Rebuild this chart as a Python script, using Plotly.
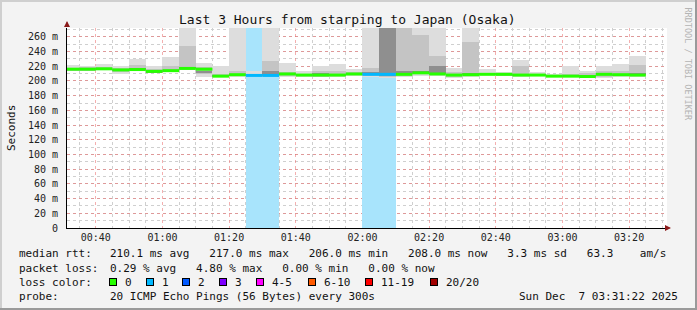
import plotly.graph_objects as go
import pandas as pd

# ---------------- data ----------------
START = "2025-12-07 00:30:00"
STEP = "5min"
N_BARS = 35
bar_start = pd.date_range(START, periods=N_BARS, freq=STEP)
bar_end = bar_start + pd.Timedelta(STEP)

median_ms = [216, 216, 216.5, 215, 215.5, 213, 214, 217, 216, 206.5,
             208.5, 207.5, 207.5, 209.5, 208, 208, 208, 209.5, 209, 209,
             209, 211, 209.5, 208, 208.5, 209, 209, 208, 208, 206.5,
             206.5, 206, 209, 208.5, 208]
max_ms = [221.5, 221, 222.5, 220.5, 230, 221, 232, 300, 225, 220.5,
          300, 213, 300, 224.5, 213.5, 221, 222.5, 216, 300, 300,
          300, 300, 300, 217, 300, 216, 212.5, 228, 212.5, 210,
          220, 213.5, 221, 222.5, 234]
min_ms = [213, 213, 214.5, 209.5, 213, 212, 212, 215, 206, 205.5,
          206, 206, 205, 205.5, 205.5, 205, 205.5, 207, 205, 204.5,
          205, 207, 207, 203.5, 206, 207.5, 207.5, 205, 206.5, 206,
          206, 205, 204.5, 206, 206]
mid_hi = [218, 218.5, 219, 217, 222, 216, 220, 247.5, 219, 210,
          213, 210, 227, 212, 210, 214, 213, 212, 217, 300,
          300, 262, 234, 212, 253, 211, 210.5, 220, 210, 208,
          210, 211, 213, 214, 222]
mid_lo = [214, 214, 215, 212, 214, 211, 213, 216, 210, 205.5,
          207, 206.5, 206, 207, 206.5, 206, 206.5, 208, 207, 206,
          207, 209, 208, 205, 207, 208, 208, 206.5, 207, 206,
          205.5, 205, 206, 207, 207]
core_hi = [217, 217, 217.5, 216, 217, 214, 215, 219, 214, 208,
           210, 208.5, 213, 211, 209, 211, 210, 210.5, 212, 300,
           213, 214, 221, 209.5, 211, 210, 209.5, 210, 209, 207.5,
           207.5, 208, 211, 210, 211]
core_lo = [215, 215, 215.5, 214, 215, 212, 212.5, 216.5, 212, 206,
           207.5, 207, 206.5, 208, 207, 207, 207, 208.5, 208, 207,
           208, 210, 209, 206.5, 207.5, 208.5, 208.5, 207, 207.5, 206,
           206, 205, 207.5, 207.5, 207.5]
lost_pings = [0] * 11 + [1, 1] + [0] * 5 + [1, 1] + [0] * 15

Y_TOP = 272
y_ticks = list(range(0, 261, 20))
y_tick_text = ["0"] + [f"{v} m" for v in y_ticks[1:]]
x_range = ["2025-12-07 00:31:22", "2025-12-07 03:31:22"]

loss_levels = ["0", "1", "2", "3", "4-5", "6-10", "11-19", "20/20"]
loss_colors = ["#26ff00", "#00b8ff", "#0059ff", "#7e00ff", "#ff00ff",
               "#ff5a00", "#ff0000", "#a10000"]
LOSS_BG = "#a8e4fc"

stats_rtt = "210.1 ms avg   217.0 ms max   206.0 ms min   208.0 ms now   3.3 ms sd   63.3    am/s"
stats_loss = "0.29 % avg   4.80 % max   0.00 % min   0.00 % now"
probe_text = "20 ICMP Echo Pings (56 Bytes) every 300s"
date_text = "Sun Dec  7 03:31:22 2025"
title_text = "Last 3 Hours from starping to Japan (Osaka)"

# ---------------- figure ----------------
W, H = 697, 310
L, R, T, B = 67, 30, 28, 82
PW, PH = W - L - R, H - T - B
MONO = "DejaVu Sans Mono"


def px(x):
    return (x - L) / PW


def py(y):
    return (H - B - y) / PH


fig = go.Figure()
width_ms = pd.Timedelta(STEP).total_seconds() * 1000

# loss background
fig.add_trace(go.Bar(
    x=bar_start, y=[Y_TOP if l > 0 else None for l in lost_pings],
    base=0, width=width_ms, offset=0, marker=dict(color=LOSS_BG, line_width=0),
    hoverinfo="skip"))

# smoke layers
for lo, hi, col in [(min_ms, max_ms, "#dddddd"),
                    (mid_lo, mid_hi, "#c4c4c4"),
                    (core_lo, core_hi, "#8f8f8f")]:
    fig.add_trace(go.Bar(
        x=bar_start, y=[h - l for l, h in zip(lo, hi)], base=lo,
        width=width_ms, offset=0, marker=dict(color=col, line_width=0),
        hoverinfo="skip"))

# median line, coloured by loss
for lvl, col in [(0, loss_colors[0]), (1, loss_colors[1])]:
    xs, ys = [], []
    for s, e, m, l in zip(bar_start, bar_end, median_ms, lost_pings):
        if l == lvl:
            xs += [s, e, None]
            ys += [m, m, None]
    fig.add_trace(go.Scatter(x=xs, y=ys, mode="lines",
                             line=dict(color=col, width=3),
                             hoverinfo="skip", connectgaps=False))

fig.update_layout(
    width=W, height=H, margin=dict(l=L, r=R, t=T, b=B),
    paper_bgcolor="#f3f3f3", plot_bgcolor="white",
    showlegend=False, barmode="overlay", bargap=0,
    font=dict(family=MONO, size=10, color="#222"),
)
fig.update_xaxes(
    type="date", range=x_range, tickformat="%H:%M",
    tick0="2025-12-07 00:00:00", dtick=20 * 60 * 1000,
    showgrid=True, gridcolor="rgba(235,110,110,0.55)", griddash="dot", gridwidth=1,
    minor=dict(tick0="2025-12-07 00:00:00", dtick=5 * 60 * 1000, showgrid=True,
               gridcolor="#cfcfcf", griddash="dot", gridwidth=1),
    showline=True, linecolor="black", linewidth=1, zeroline=False,
    ticks="", ticklabelstandoff=0,
    tickfont=dict(family=MONO, size=10, color="#222"),
)
fig.update_yaxes(
    range=[0, Y_TOP], tickvals=y_ticks, ticktext=y_tick_text,
    showgrid=True, gridcolor="rgba(235,110,110,0.55)", griddash="dot", gridwidth=1,
    minor=dict(dtick=10, showgrid=True, gridcolor="#cfcfcf", griddash="dot", gridwidth=1),
    showline=True, linecolor="black", linewidth=1, zeroline=False,
    ticks="", ticklabelstandoff=6,
    tickfont=dict(family=MONO, size=10, color="#222"),
)

ann = []
# title
ann.append(dict(x=px(347), y=py(19), xref="paper", yref="paper", text=title_text,
                showarrow=False, xanchor="center", yanchor="middle",
                font=dict(family=MONO, size=13, color="#111")))
# y title
ann.append(dict(x=px(11), y=py(128), xref="paper", yref="paper", text="Seconds",
                showarrow=False, textangle=-90, xanchor="center", yanchor="middle",
                font=dict(family=MONO, size=11, color="#111")))
# watermark
ann.append(dict(x=px(688), y=py(5), xref="paper", yref="paper",
                text="RRDTOOL / TOBI OETIKER", showarrow=False, textangle=90,
                xanchor="center", yanchor="top",
                font=dict(family=MONO, size=8.5, color="#b4b4b4")))
# axis arrows
ann.append(dict(x=0, y=py(21), xref="paper", yref="paper", text="", showarrow=True,
                ax=0, ay=7, arrowhead=2, arrowsize=1, arrowwidth=1.2,
                arrowcolor="#8b1a1a", standoff=0))
ann.append(dict(x=px(671), y=0, xref="paper", yref="paper", text="", showarrow=True,
                ax=-7, ay=0, arrowhead=2, arrowsize=1, arrowwidth=1.2,
                arrowcolor="#8b1a1a", standoff=0))


def txt(x, y, s, anchor="left"):
    ann.append(dict(x=px(x), y=py(y), xref="paper", yref="paper", text=s,
                    showarrow=False, xanchor=anchor, yanchor="middle",
                    font=dict(family=MONO, size=11, color="#111")))


ROW = [254, 268, 282, 296]
COL1 = 16.5
COL2 = 107.6
txt(COL1, ROW[0], "median rtt:")
txt(COL2, ROW[0], stats_rtt.replace(" ", "&nbsp;"))
txt(COL1, ROW[1], "packet loss:")
txt(COL2, ROW[1], stats_loss.replace(" ", "&nbsp;"))
txt(COL1, ROW[2], "loss color:")
txt(COL1, ROW[3], "probe:")
txt(COL2, ROW[3], probe_text.replace(" ", "&nbsp;"))
txt(680, ROW[3], date_text.replace(" ", "&nbsp;"), anchor="right")

box_x = [109, 145.5, 182, 219, 256, 307.5, 365, 430]
for bx, lab, col in zip(box_x, loss_levels, loss_colors):
    ann.append(dict(x=px(bx), y=py(ROW[2]), xref="paper", yref="paper", text=" ",
                    showarrow=False, xanchor="left", yanchor="middle",
                    width=6, height=6, bgcolor=col, bordercolor="#000",
                    borderwidth=1, borderpad=0))
    txt(bx + 14, ROW[2], lab)

fig.update_layout(annotations=ann)

# 3D frame of the image
frame = [
    (0, 1, W, 1, "#cfcfcf"), (1, 0, 1, H, "#cfcfcf"),
    (0, H - 1, W, H - 1, "#9a9a9a"), (W - 1, 0, W - 1, H, "#9a9a9a"),
]
for x0, y0, x1, y1, c in frame:
    fig.add_shape(type="line", xref="paper", yref="paper",
                  x0=px(x0), y0=py(y0), x1=px(x1), y1=py(y1),
                  line=dict(color=c, width=2), layer="above")

fig.write_html("out.html")
